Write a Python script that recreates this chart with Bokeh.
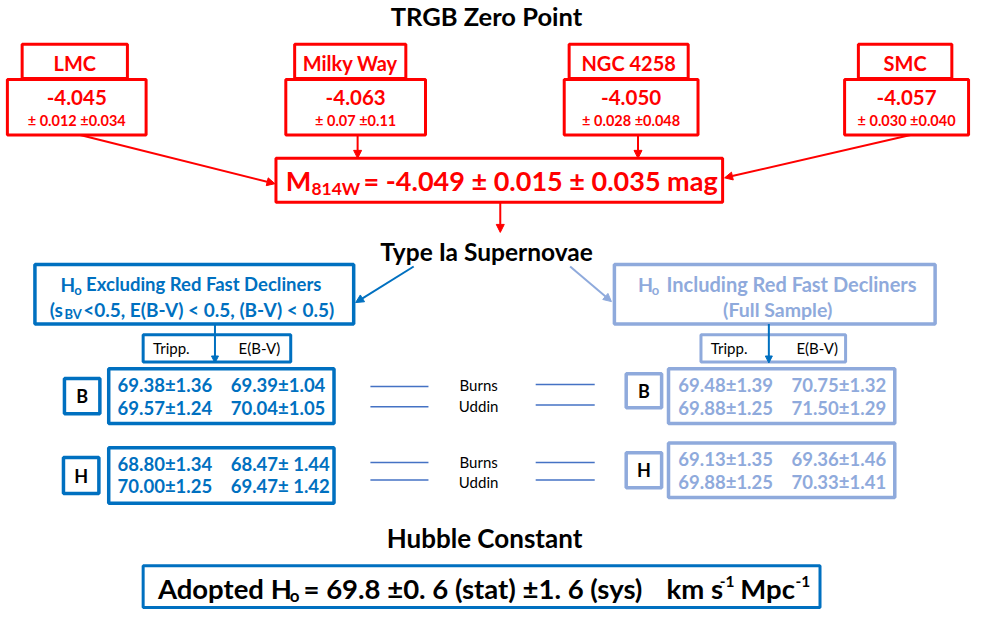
from bokeh.plotting import figure
from bokeh.models import Range1d, Arrow, NormalHead
from bokeh.core.properties import value
from bokeh.embed import file_html
from bokeh.resources import INLINE

# ---------------- data ----------------
galaxies = ["LMC", "Milky Way", "NGC 4258", "SMC"]
trgb_mag = ["-4.045", "-4.063", "-4.050", "-4.057"]
trgb_stat = ["0.012", "0.07", "0.028", "0.030"]
trgb_sys = ["0.034", "0.11", "0.048", "0.040"]
zero_point = "-4.049"
zero_stat = "0.015"
zero_sys = "0.035"

methods = ["Burns", "Uddin"]
bands = ["B", "H"]
# H0 values: [band][method] for Tripp and E(B-V) columns
excl_tripp = {"B": [69.38, 69.57], "H": [68.80, 70.00]}
excl_tripp_err = {"B": [1.36, 1.24], "H": [1.34, 1.25]}
excl_ebv = {"B": [69.39, 70.04], "H": [68.47, 69.47]}
excl_ebv_err = {"B": [1.04, 1.05], "H": [1.44, 1.42]}
incl_tripp = {"B": [69.48, 69.88], "H": [69.13, 69.88]}
incl_tripp_err = {"B": [1.39, 1.25], "H": [1.35, 1.25]}
incl_ebv = {"B": [70.75, 71.50], "H": [69.36, 70.33]}
incl_ebv_err = {"B": [1.32, 1.29], "H": [1.46, 1.41]}
adopted_h0 = "69.8"
adopted_stat = "0. 6"
adopted_sys = "1. 6"

# ---------------- styles ----------------
FONT = "Lato"
RED = "#FF0000"
DBLUE = "#0070C0"
LBLUE = "#8FAADC"
LINEBLUE = "#4472C4"

W, H = 988, 626
p = figure(width=972, height=610, x_range=Range1d(0, W), y_range=Range1d(H, 0),
           output_backend="svg", toolbar_location=None, min_border=0,
           x_axis_location=None, y_axis_location=None)
p.grid.visible = False
p.outline_line_color = None
p.background_fill_color = "white"
p.border_fill_color = "white"


def box(l, r, t, b, color, lw=3):
    p.quad(left=[l], right=[r], top=[t], bottom=[b], fill_color="white",
           line_color=color, line_width=lw)


def txt(x, y, s, size, color, bold=True, align="center"):
    p.text(x=[x], y=[y], text=[s], text_font=value(FONT),
           text_font_size=f"{size}px",
           text_font_style="bold" if bold else "normal",
           text_color=color, text_align=align, text_baseline="middle")


def arrow(x0, y0, x1, y1, color, lw=2, size=8):
    p.add_layout(Arrow(end=NormalHead(size=size, fill_color=color, line_color=color),
                       x_start=x0, y_start=y0, x_end=x1, y_end=y1,
                       line_color=color, line_width=lw))


def seg(x0, y0, x1, y1, color, lw=1.5):
    p.segment(x0=[x0], y0=[y0], x1=[x1], y1=[y1], line_color=color, line_width=lw)


# ---------------- TRGB zero point ----------------
txt(494, 16, "TRGB Zero Point", 25.5, "black")

label_boxes = [(22, 129), (299, 412), (578, 699), (872, 967)]
value_boxes = [(7, 148), (290, 432), (573, 709), (858, 984)]
for i, g in enumerate(galaxies):
    l, r = label_boxes[i]
    box(l, r, 45, 80, RED)
    txt((l + r) / 2, 64, g, 20, RED)
    l, r = value_boxes[i]
    box(l, r, 81, 138, RED)
    txt((l + r) / 2, 100, trgb_mag[i], 20.5, RED)
    txt((l + r) / 2, 123, f"\u00b1 {trgb_stat[i]} \u00b1{trgb_sys[i]}", 14.5, RED)

# arrows into combined box
arrow(81, 138, 279, 188, RED)
arrow(363, 138, 363, 162, RED)
arrow(648, 138, 648, 162, RED)
arrow(925, 138, 736, 182, RED)

box(280, 734, 162, 207, RED)
txt(290, 185, "M", 27, RED, align="left")
txt(316, 193, "814W", 17.5, RED, align="left")
txt(369, 185, f"= {zero_point} \u00b1 {zero_stat} \u00b1 {zero_sys} mag", 27, RED, align="left")

arrow(508, 207, 508, 238, RED)

# ---------------- Type Ia SNe ----------------
txt(494, 258, "Type Ia Supernovae", 24.5, "black")
arrow(420, 273, 361, 310, DBLUE)
arrow(579, 273, 621, 309, LBLUE)

# left (excluding) box
box(35, 359, 271, 332, DBLUE, lw=3.5)
txt(61, 291, "H", 19, DBLUE, align="left")
txt(75, 297, "o", 13, DBLUE, align="left")
txt(87, 291, "Excluding Red Fast Decliners", 18.5, DBLUE, align="left")
txt(50, 317, "(s", 19, DBLUE, align="left")
txt(65, 322, "BV", 13, DBLUE, align="left")
txt(84, 317, "<0.5, E(B-V) < 0.5, (B-V) < 0.5)", 19, DBLUE, align="left")

# right (including) box
box(624, 950, 271, 332, LBLUE, lw=3.5)
txt(648, 291, "H", 19.5, LBLUE, align="left")
txt(662, 297, "o", 13, LBLUE, align="left")
txt(677, 291, "Including Red Fast Decliners", 20, LBLUE, align="left")
txt(790, 317, "(Full Sample)", 19.5, LBLUE)

# column headers
for (l, r, col) in [(145, 295, DBLUE), (712, 859, LBLUE)]:
    box(l, r, 343, 371, col, lw=3)
    txt(l + 10, 357, "Tripp.", 15, "black", bold=False, align="left")
    txt(l + 97, 357, "E(B-V)", 15, "black", bold=False, align="left")
for ax in (218, 781):
    arrow(ax, 332, ax, 372, DBLUE, size=7)

# value boxes
rows_y = {"B": (395, 418), "H": (476, 498)}
rows_y_r = {"B": (395, 418), "H": (471, 494)}
data_box_y = {"B": (378, 434), "H": (459, 516)}
data_box_y_r = {"B": (378, 434), "H": (454, 510)}
band_box_y = {"B": (388, 424), "H": (469, 506)}
band_box_y_r = {"B": (383, 418), "H": (464, 500)}

for b in bands:
    # excluding (left)
    t, bt = band_box_y[b]
    box(65 if b == "B" else 64, 101 if b == "B" else 100, t, bt, DBLUE, lw=3.5)
    txt(83 if b == "B" else 82, (t + bt) / 2, b, 18, "black")
    t, bt = data_box_y[b]
    box(110, 339, t, bt, DBLUE, lw=3.5)
    for k in range(2):
        y = rows_y[b][k]
        txt(119, y, f"{excl_tripp[b][k]:.2f}\u00b1{excl_tripp_err[b][k]:.2f}", 18.5, DBLUE, align="left")
        sep = "\u00b1 " if b == "H" else "\u00b1"
        txt(234, y, f"{excl_ebv[b][k]:.2f}{sep}{excl_ebv_err[b][k]:.2f}", 18.5, DBLUE, align="left")
    # including (right)
    t, bt = band_box_y_r[b]
    box(636, 672, t, bt, LBLUE, lw=3.5)
    txt(654, (t + bt) / 2, b, 18, "black")
    t, bt = data_box_y_r[b]
    box(679, 909, t, bt, LBLUE, lw=3.5)
    for k in range(2):
        y = rows_y_r[b][k]
        txt(689, y, f"{incl_tripp[b][k]:.2f}\u00b1{incl_tripp_err[b][k]:.2f}", 18.5, LBLUE, align="left")
        txt(804, y, f"{incl_ebv[b][k]:.2f}\u00b1{incl_ebv_err[b][k]:.2f}", 18.5, LBLUE, align="left")

# method labels and connector lines
method_y = {"B": (395, 416), "H": (474, 494)}
line_y_l = {"B": (396, 417), "H": (474, 492)}
line_y_r = {"B": (394, 415), "H": (474, 492)}
for b in bands:
    for k, m in enumerate(methods):
        txt(486, method_y[b][k], m, 15, "black", bold=False)
        seg(376, line_y_l[b][k], 435, line_y_l[b][k], LINEBLUE)
        seg(544, line_y_r[b][k], 604, line_y_r[b][k], LINEBLUE)

# ---------------- Hubble constant ----------------
txt(492, 552, "Hubble Constant", 26, "black")
box(145, 833, 580, 623, DBLUE, lw=3)
txt(160, 603, "Adopted H", 27.5, "black", align="left")
txt(294, 611, "o", 17, "black", align="left")
txt(308, 603, f"= {adopted_h0} \u00b1{adopted_stat} (stat) \u00b1{adopted_sys} (sys)", 27.5, "black", align="left")
txt(677, 603, "km s", 27.5, "black", align="left")
txt(731, 596, "-1", 15.5, "black", align="left")
txt(752, 603, "Mpc", 27.5, "black", align="left")
txt(808, 596, "-1", 15.5, "black", align="left")

open("out.html", "w").write(file_html(p, INLINE))
